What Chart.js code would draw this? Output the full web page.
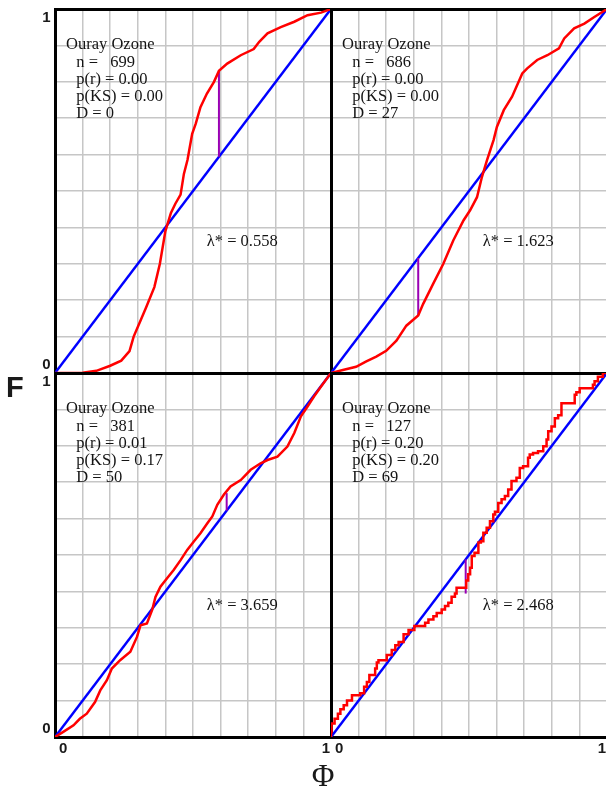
<!DOCTYPE html>
<html>
<head>
<meta charset="utf-8">
<script src="https://cdn.jsdelivr.net/npm/chart.js@4.4.1/dist/chart.umd.min.js"></script>
<style>
html,body{margin:0;padding:0;background:#fff;overflow:hidden;width:606px;height:787px;position:relative}
canvas{position:absolute;left:0;top:0}
</style>
</head>
<body>
<canvas id="p0" width="610" height="787"></canvas>
<canvas id="p1" width="610" height="787"></canvas>
<canvas id="p2" width="610" height="787"></canvas>
<canvas id="p3" width="610" height="787"></canvas>
<script>
// ---------------- data ----------------
const stationName = "Ouray Ozone";
const panelN      = [699, 686, 381, 127];
const panelPr     = ["0.00", "0.00", "0.01", "0.20"];
const panelPks    = ["0.00", "0.00", "0.17", "0.20"];
const panelD      = [0, 27, 50, 69];
const panelLambda = ["0.558", "1.623", "3.659", "2.468"];

const xTickLabels = ["0", "1"];
const yTickLabels = ["0", "1"];
const xAxisTitle = "\u03A6";
const yAxisTitle = "F";

// reference line F = Phi
const refPhi = [0, 1];
const refF   = [0, 1];

// Kolmogorov-Smirnov maximum distance segment
const ksPhi  = [0.594, 0.316, 0.622, 0.488];
const ksLow  = [0.594, 0.158, 0.622, 0.394];
const ksHigh = [0.830, 0.316, 0.670, 0.488];

// empirical CDFs
const ecdfPhi0 = [0,0.1,0.15,0.2,0.24,0.27,0.285,0.31,0.33,0.36,0.38,0.4,0.42,0.436,0.455,0.467,0.48,0.497,0.51,0.527,0.55,0.576,0.594,0.624,0.673,0.72,0.74,0.77,0.818,0.867,0.915,0.964,1];
const ecdfF0   = [0,0.001,0.006,0.02,0.034,0.06,0.1,0.144,0.18,0.236,0.3,0.39,0.44,0.465,0.49,0.547,0.585,0.657,0.685,0.73,0.767,0.8,0.83,0.85,0.873,0.89,0.91,0.933,0.95,0.965,0.983,0.99,1];

const ecdfPhi1 = [0,0.043,0.091,0.128,0.164,0.2,0.237,0.273,0.316,0.334,0.37,0.407,0.443,0.48,0.504,0.529,0.547,0.565,0.589,0.601,0.626,0.656,0.693,0.711,0.747,0.784,0.826,0.845,0.881,0.918,0.954,1];
const ecdfF1   = [0,0.008,0.017,0.032,0.045,0.061,0.089,0.13,0.158,0.19,0.245,0.3,0.364,0.419,0.447,0.483,0.539,0.584,0.64,0.676,0.722,0.759,0.823,0.837,0.86,0.873,0.892,0.919,0.947,0.96,0.978,1];

const ecdfPhi2 = [0,0.03,0.067,0.09,0.115,0.145,0.164,0.188,0.206,0.236,0.273,0.297,0.31,0.333,0.352,0.364,0.382,0.406,0.43,0.455,0.479,0.503,0.527,0.552,0.57,0.588,0.612,0.636,0.673,0.709,0.745,0.77,0.806,0.842,0.867,0.891,0.915,0.939,0.964,1];
const ecdfF2   = [0,0.014,0.032,0.05,0.064,0.096,0.128,0.156,0.188,0.211,0.234,0.275,0.307,0.312,0.349,0.385,0.413,0.436,0.459,0.486,0.514,0.537,0.56,0.587,0.606,0.638,0.666,0.688,0.706,0.734,0.752,0.761,0.77,0.798,0.835,0.881,0.908,0.936,0.963,1];

const ecdfPhi3 = [0,0.002,0.013,0.025,0.034,0.046,0.058,0.076,0.106,0.12,0.13,0.139,0.16,0.166,0.172,0.202,0.22,0.233,0.245,0.263,0.281,0.302,0.341,0.353,0.371,0.383,0.401,0.413,0.425,0.437,0.449,0.455,0.49,0.497,0.504,0.51,0.52,0.534,0.543,0.552,0.564,0.576,0.588,0.594,0.606,0.618,0.63,0.642,0.654,0.672,0.684,0.696,0.714,0.72,0.732,0.75,0.769,0.781,0.787,0.799,0.811,0.823,0.835,0.883,0.889,0.901,0.949,0.955,0.967,0.985,1];
const ecdfF3   = [0,0.014,0.037,0.05,0.064,0.076,0.087,0.1,0.115,0.12,0.138,0.151,0.17,0.188,0.205,0.211,0.225,0.239,0.252,0.261,0.282,0.294,0.305,0.314,0.323,0.332,0.341,0.35,0.36,0.369,0.385,0.394,0.41,0.43,0.447,0.465,0.497,0.506,0.534,0.538,0.561,0.575,0.593,0.611,0.619,0.643,0.653,0.662,0.68,0.703,0.712,0.739,0.744,0.767,0.776,0.78,0.785,0.799,0.817,0.84,0.853,0.876,0.884,0.917,0.94,0.947,0.958,0.968,0.977,0.99,1];

const ecdfPhi = [ecdfPhi0, ecdfPhi1, ecdfPhi2, ecdfPhi3];
const ecdfF   = [ecdfF0, ecdfF1, ecdfF2, ecdfF3];
const ecdfStepped = [false, false, false, 'after'];

// ---------------- layout ----------------
const CW = 610, CH = 787;
const areas = [
  {l:55,  t:9,   r:331, b:373},
  {l:331, t:9,   r:607, b:373},
  {l:55,  t:373, r:331, b:737},
  {l:331, t:373, r:607, b:737}
];
const infoX = 0.040, indentX = 0.077, infoY0 = 1 - 40.3/364, infoDy = 17.25/364;
const lambdaX = 0.550, lambdaY = 0.348;

const pts = (xs, ys) => xs.map((v, i) => ({x: v, y: ys[i]}));
const isOne = c => c.tick && Math.abs(c.tick.value - 1) < 1e-9;

function axis(kind, blackAtOne) {
  return {
    type: 'linear', min: 0, max: 1,
    ticks: {display: false, stepSize: 0.1},
    grid: {
      drawTicks: false,
      color: c => (blackAtOne && isOne(c)) ? '#000' : '#c6c6c6',
      lineWidth: c => (blackAtOne && isOne(c)) ? 3 : 1.5
    },
    border: {display: true, color: '#000', width: 3},
    afterFit: s => { if (kind === 'x') s.height = 0; else s.width = 0; }
  };
}

const annotate = {
  id: 'annotate',
  afterDraw(chart, args, opts) {
    const i = opts.panel;
    const {ctx} = chart;
    const x = chart.scales.x, y = chart.scales.y;
    ctx.save();
    ctx.fillStyle = '#141414';
    ctx.textBaseline = 'alphabetic';
    ctx.textAlign = 'left';
    ctx.font = '16.5px "Liberation Serif"';
    const lines = [
      'n =   ' + panelN[i],
      'p(r) = ' + panelPr[i],
      'p(KS) = ' + panelPks[i],
      'D = ' + panelD[i]
    ];
    ctx.fillText(stationName, x.getPixelForValue(infoX), y.getPixelForValue(infoY0));
    lines.forEach((s, k) => ctx.fillText(s, x.getPixelForValue(indentX), y.getPixelForValue(infoY0 - (k + 1) * infoDy)));
    ctx.fillText('\u03BB* = ' + panelLambda[i], x.getPixelForValue(lambdaX), y.getPixelForValue(lambdaY));

    // tick labels
    ctx.font = 'bold 15px "Liberation Sans"';
    ctx.fillStyle = '#1a1a1a';
    if (i % 2 === 0) {
      ctx.textAlign = 'right';
      ctx.fillText(yTickLabels[1], x.left - 4.5, y.getPixelForValue(1) + 13);
      ctx.fillText(yTickLabels[0], x.left - 4.5, y.getPixelForValue(0) - 4.5);
    }
    if (i >= 2) {
      ctx.textAlign = 'left';
      ctx.fillText(xTickLabels[0], x.getPixelForValue(0) + 4, y.bottom + 15.5);
      ctx.textAlign = 'right';
      ctx.fillText(xTickLabels[1], x.getPixelForValue(1) - 1, y.bottom + 15.5);
    }
    if (i === 2) {
      ctx.textAlign = 'left';
      ctx.font = 'bold 29px "Liberation Sans"';
      ctx.fillText(yAxisTitle, 6, 397);
      ctx.textAlign = 'center';
      ctx.font = '31px "Liberation Serif"';
      ctx.fillText(xAxisTitle, x.right - 8, 786);
    }
    ctx.restore();
  }
};

for (let i = 0; i < 4; i++) {
  const a = areas[i];
  new Chart(document.getElementById('p' + i), {
    type: 'scatter',
    data: {
      datasets: [
        {data: pts(ecdfPhi[i], ecdfF[i]), showLine: true, borderColor: '#ff0000', borderWidth: 2.5,
         pointRadius: 0, tension: 0, stepped: ecdfStepped[i], fill: false},
        {data: [{x: ksPhi[i], y: ksLow[i]}, {x: ksPhi[i], y: ksHigh[i]}], showLine: true,
         borderColor: '#9a00b4', borderWidth: 2, pointRadius: 0, fill: false},
        {data: pts(refPhi, refF), showLine: true, borderColor: '#0000ff', borderWidth: 2.5,
         pointRadius: 0, fill: false}
      ]
    },
    options: {
      responsive: false, devicePixelRatio: 1, animation: false,
      layout: {padding: {left: a.l, top: a.t, right: CW - a.r, bottom: CH - a.b}},
      plugins: {legend: {display: false}, tooltip: {enabled: false}, annotate: {panel: i}},
      scales: {
        x: axis('x', i % 2 === 0),
        y: axis('y', true)
      }
    },
    plugins: [annotate]
  });
}
</script>
</body>
</html>
